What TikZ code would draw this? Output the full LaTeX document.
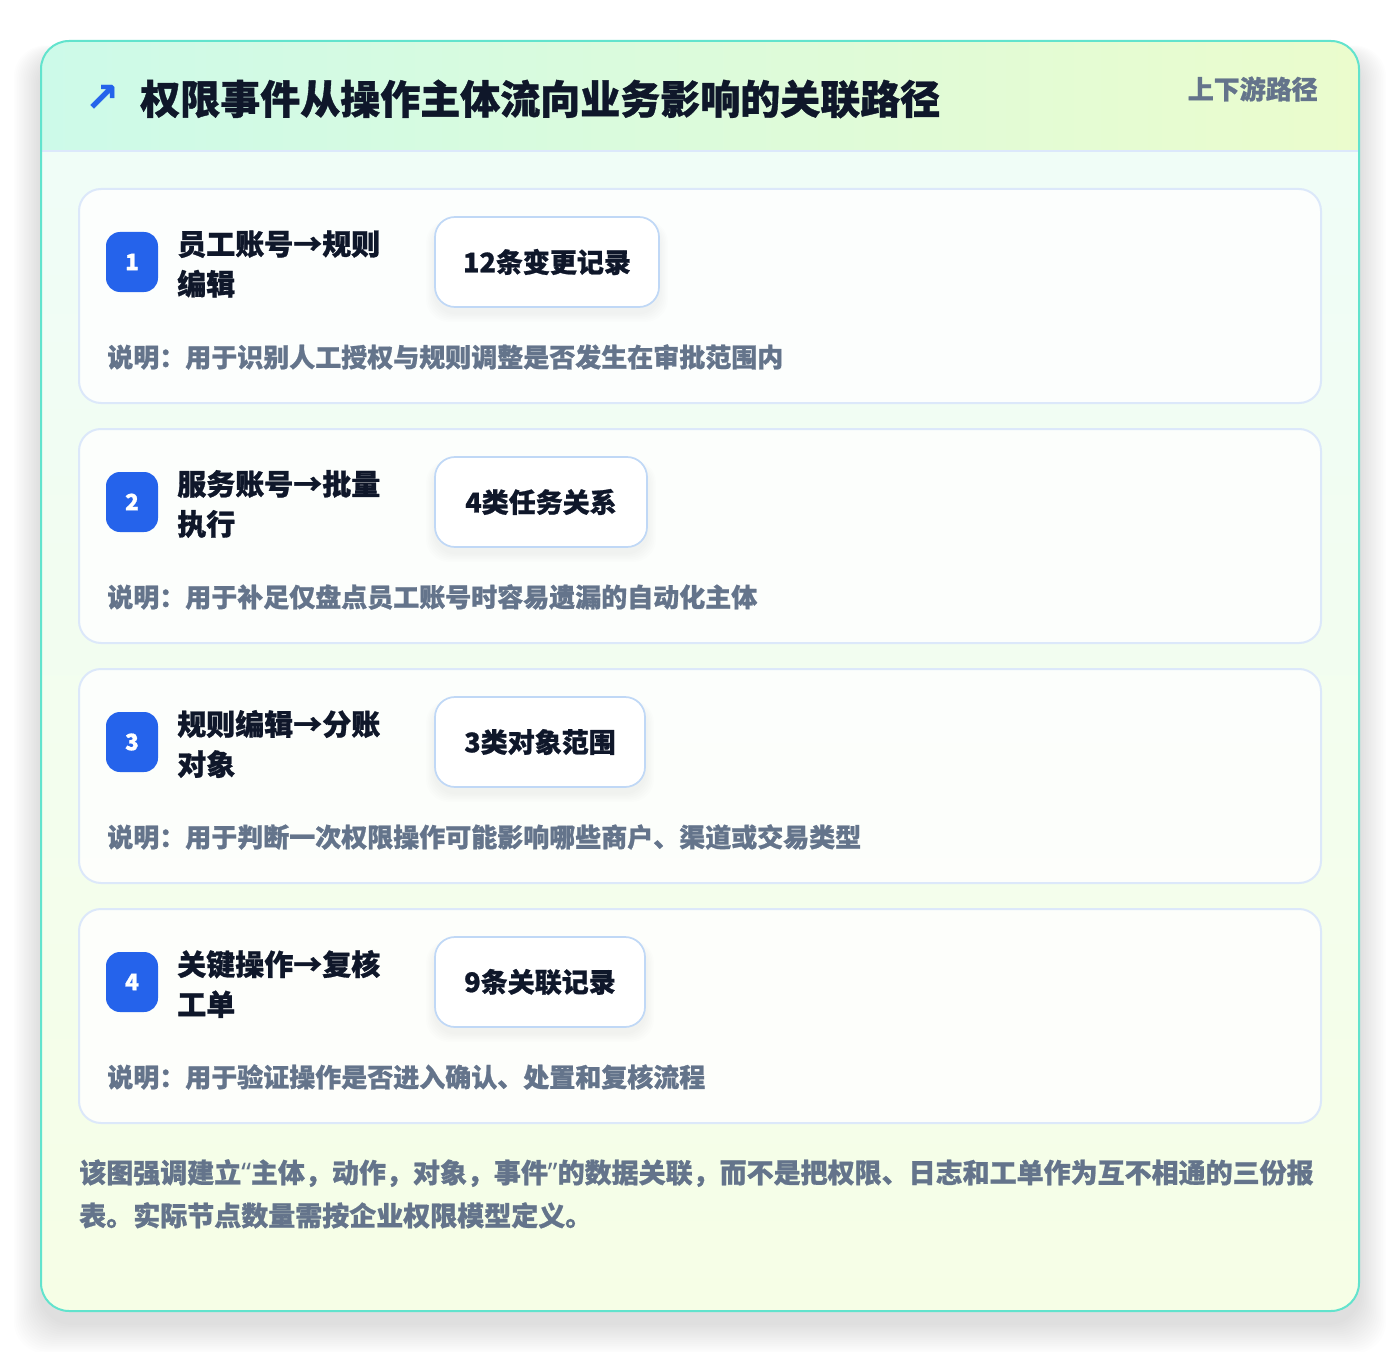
\documentclass[tikz,border=0pt]{standalone}
\usepackage{fontspec}
\setmainfont{Noto Sans CJK SC}[BoldFeatures={FakeBold=0.9}]
\newfontfamily\symfont{DejaVu Sans}[BoldFeatures={FakeBold=1.2}]
\newfontfamily\quotefont{Noto Sans}[BoldFeatures={FakeBold=0.9}]
\definecolor{teal}{HTML}{62E3CD}
\definecolor{hdrL}{HTML}{CDFAE9}
\definecolor{hdrR}{HTML}{EBFCCD}
\definecolor{bodyT}{HTML}{EFFDF9}
\definecolor{bodyB}{HTML}{F6FEE6}
\definecolor{divider}{HTML}{DCE8FB}
\definecolor{cardline}{HTML}{DCE8FA}
\definecolor{pillline}{HTML}{C0D8F6}
\definecolor{badgeblue}{HTML}{2563EB}
\definecolor{inkdark}{HTML}{0F172A}
\definecolor{inkgray}{HTML}{64748B}
\tikzset{
  cardbox/.style={draw=cardline, line width=1.5pt, fill=white, fill opacity=0.82, draw opacity=1,
    rounded corners=16.5pt, minimum width=931.5pt, minimum height=160.5pt, inner sep=0pt},
  badgebox/.style={fill=badgeblue, rounded corners=10.5pt, minimum width=39pt, minimum height=45pt,
    inner sep=0pt, text=white, font={\fontsize{17}{17}\selectfont\bfseries}},
  pillbox/.style={draw=pillline, line width=1.3pt, fill=white, rounded corners=15pt,
    minimum height=67.5pt, inner sep=0pt, text=inkdark, font={\fontsize{20.25}{24}\selectfont\bfseries}},
  steptitle/.style={anchor=west, align=left, inner sep=0pt, text=inkdark,
    font={\fontsize{21.75}{30}\selectfont\bfseries}},
  stepnote/.style={anchor=west, inner sep=0pt, text=inkgray, font={\fontsize{19.5}{24}\selectfont\bfseries}},
}
\begin{document}
\begin{tikzpicture}[x=0.75pt,y=-0.75pt]
\useasboundingbox (0,0) rectangle (1400,1352);
\fill[white] (0,0) rectangle (1400,1352);
% soft shadow of the outer card
\foreach \i in {1,...,16} {
  \fill[black, opacity=0.0065, rounded corners=24pt]
    ({41-\i*1.7}, {41-\i*0.6+14}) rectangle ({1359+\i*1.7}, {1311+\i*1.9+12});
}
% outer card
\begin{scope}
  \clip[rounded corners=21pt] (41,41) rectangle (1359,1311);
  \shade[top color=bodyT, bottom color=bodyB] (41,41) rectangle (1359,1311);
  \shade[left color=hdrL, right color=hdrR] (41,41) rectangle (1359,151);
\end{scope}
\draw[divider, line width=1.2pt] (42,151) -- (1358,151);
\draw[teal, line width=1.5pt, rounded corners=21pt] (41,41) rectangle (1359,1311);
% header
\node[anchor=center, inner sep=0pt, text=badgeblue, font={\symfont\fontsize{30}{30}\selectfont\bfseries}] (icon) at (102,98) {↗};
\node[anchor=west, inner sep=0pt, text=inkdark, font={\fontsize{30}{36}\selectfont\bfseries}] (title) at (140,99) {权限事件从操作主体流向业务影响的关联路径};
\node[anchor=east, inner sep=0pt, text=inkgray, font={\fontsize{19.5}{24}\selectfont\bfseries}] (tag) at (1318,89) {上下游路径};
% cards
\foreach \k/\num/\ta/\tb/\pill/\pw/\note in {
  0/1/员工账号→规则/编辑/12条变更记录/224/说明：用于识别人工授权与规则调整是否发生在审批范围内,
  1/2/服务账号→批量/执行/4类任务关系/212/说明：用于补足仅盘点员工账号时容易遗漏的自动化主体,
  2/3/规则编辑→分账/对象/3类对象范围/210/说明：用于判断一次权限操作可能影响哪些商户、渠道或交易类型,
  3/4/关键操作→复核/工单/9条关联记录/210/说明：用于验证操作是否进入确认、处置和复核流程} {
  \pgfmathsetmacro{\top}{189+240*\k}
  \node[cardbox] (card\num) at (700,{\top+107}) {};
  \node[badgebox] (badge\num) at (132,{\top+73}) {\num};
  \node[steptitle] (head\num) at (177,{\top+75}) {\ta\\\tb};
  % pill shadow
  \foreach \j in {1,...,6} {
    \fill[black, opacity=0.006, rounded corners=17pt]
      ({435-\j*1.5}, {\top+28-\j*0.5+6}) rectangle ({435+\pw+\j*1.5}, {\top+118+\j*1.5+6});
  }
  \node[pillbox, minimum width=\pw*0.75pt] (pill\num) at ({435+\pw/2},{\top+73}) {\pill};
  \node[stepnote] (note\num) at (107,{\top+168}) {\note};
}
% footer
\node[anchor=north west, align=left, inner sep=0pt, text=inkgray,
  font={\fontsize{20.25}{32.25}\selectfont\bfseries}] (footer) at (79,1159)
  {该图强调建立{\quotefont “}主体，动作，对象，事件{\quotefont ”}的数据关联，而不是把权限、日志和工单作为互不相通的三份报\\表。实际节点数量需按企业权限模型定义。};
\end{tikzpicture}
\end{document}
